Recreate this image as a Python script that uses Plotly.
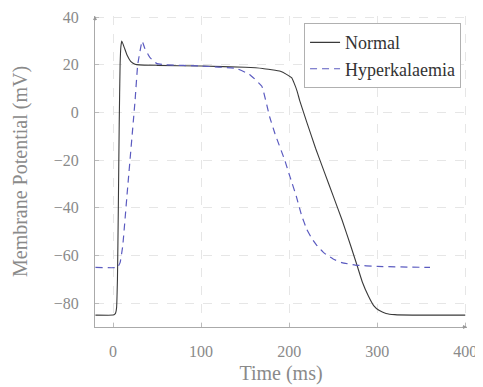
import plotly.graph_objects as go

# Normal action potential
normal_t = [-20, 0, 2, 3, 4, 5, 6, 7, 8, 9, 10, 13, 16, 20, 25, 30, 50, 100, 150, 170, 190, 197, 203,
            206, 209, 212, 220, 230, 240, 250, 260, 270, 277, 283, 290, 296, 302, 310, 320, 340, 400]
normal_v = [-85, -85, -84.6, -84, -82, -70, -40, -5, 20, 28, 30, 27, 24, 21.5, 20.3, 20, 19.8, 19.5, 19,
            18.5, 17.3, 16, 14.5, 12, 9, 5, -4, -15, -25, -35, -45, -56, -64, -71, -77, -81, -83,
            -84.3, -84.8, -85, -85]

# Hyperkalaemia action potential
hyper_t = [-20, 5, 8, 11, 16, 25, 28, 33, 36, 42, 50, 60, 100, 140, 155, 169, 178, 184, 195, 201,
           208, 214, 220, 226, 232, 240, 250, 260, 275, 300, 360]
hyper_v = [-65, -65, -63, -56, -34, 5, 20, 30, 27, 23, 20.5, 20, 19.5, 18.5, 16, 11, -2, -9, -20, -27,
           -35, -43, -49, -53, -56, -59, -61.5, -63, -64, -64.6, -65]

x_ticks = [0, 100, 200, 300, 400]
y_ticks = [-80, -60, -40, -20, 0, 20, 40]

FONT = "Liberation Serif"
fig = go.Figure()
fig.add_trace(go.Scatter(x=normal_t, y=normal_v, mode="lines", name="Normal",
                         line=dict(color="#3a3a3a", width=1.1, shape="spline", smoothing=0.3)))
fig.add_trace(go.Scatter(x=hyper_t, y=hyper_v, mode="lines", name="Hyperkalaemia",
                         line=dict(color="#5b5bc0", width=1.2, dash="7px,5px", shape="spline", smoothing=0.3)))

fig.update_layout(
    width=483, height=387,
    margin=dict(l=87, r=24, t=8, b=68, autoexpand=False),
    paper_bgcolor="white", plot_bgcolor="white",
    font=dict(family=FONT, size=16, color="#8a8a8a"),
    showlegend=True,
    legend=dict(x=0.984, y=0.977, xanchor="right", yanchor="top",
                bgcolor="white", bordercolor="#b0b0b0", borderwidth=1,
                font=dict(family=FONT, size=18, color="#333333"),
                itemwidth=30),
    xaxis=dict(range=[-20.5, 402], tickvals=x_ticks, showgrid=True, gridcolor="#e6e6e6",
               griddash="dash", zeroline=False, showline=True, linecolor="#aaaaaa", linewidth=1,
               ticks="inside", ticklen=4, tickcolor="#bbbbbb", ticklabelstandoff=10, automargin=False,
               tickfont=dict(family=FONT, size=16, color="#8a8a8a"),
               title=dict(text="Time (ms)", standoff=6, font=dict(family=FONT, size=20, color="#8a8a8a"))),
    yaxis=dict(range=[-90, 40.5], tickvals=y_ticks, showgrid=True, gridcolor="#e6e6e6",
               griddash="dash", zeroline=False, showline=True, linecolor="#aaaaaa", linewidth=1,
               ticks="inside", ticklen=4, tickcolor="#bbbbbb", ticklabelstandoff=12, automargin=False,
               tickfont=dict(family=FONT, size=16, color="#8a8a8a"),
               title=dict(text="Membrane Potential (mV)", standoff=20, font=dict(family=FONT, size=20, color="#8a8a8a"))),
)

# axis arrowheads
fig.add_annotation(x=1.0, y=0, xref="paper", yref="paper", ax=-6, ay=0, showarrow=True,
                   arrowhead=2, arrowsize=0.8, arrowwidth=1, arrowcolor="#999999", text="")
fig.add_annotation(x=0, y=1.0, xref="paper", yref="paper", ax=0, ay=6, showarrow=True,
                   arrowhead=2, arrowsize=0.8, arrowwidth=1, arrowcolor="#999999", text="")

fig.write_html("out.html")
